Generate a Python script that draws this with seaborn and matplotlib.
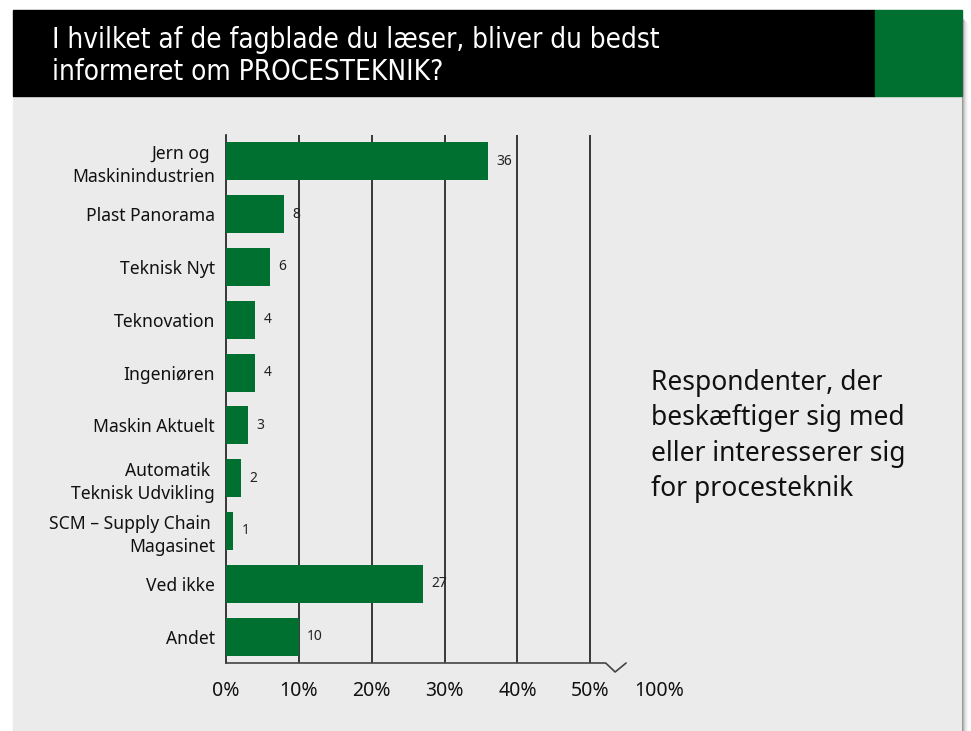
import pandas as pd
import seaborn as sns
import matplotlib.pyplot as plt
from matplotlib.patches import Rectangle

# Data
titel = "I hvilket af de fagblade du læser, bliver du bedst\ninformeret om PROCESTEKNIK?"
fagblade = [
    "Jern og \nMaskinindustrien",
    "Plast Panorama",
    "Teknisk Nyt",
    "Teknovation",
    "Ingeniøren",
    "Maskin Aktuelt",
    "Automatik \nTeknisk Udvikling",
    "SCM – Supply Chain \nMagasinet",
    "Ved ikke",
    "Andet",
]
procent = [36, 8, 6, 4, 4, 3, 2, 1, 27, 10]
tick_pos = [0, 10, 20, 30, 40, 50, 59.5]
tick_labels = ["0%", "10%", "20%", "30%", "40%", "50%", "100%"]
gridlines = [10, 20, 30, 40, 50]
note = "Respondenter, der\nbeskæftiger sig med\neller interesserer sig\nfor procesteknik"

GREEN = "#007030"
BG = "#ebebeb"

df = pd.DataFrame({"fagblad": fagblade, "procent": procent})

sns.set_theme(style="white")
plt.rcParams["font.family"] = ["Noto Sans", "DejaVu Sans"]

fig = plt.figure(figsize=(9.71, 7.31), dpi=100)
fig.patch.set_facecolor("white")

W, H = 971, 731
def fx(px):
    return px / W
def fy(py):
    return 1 - py / H

# panel background, header band, green block, shadow
fig.patches.append(Rectangle((fx(13), 0), fx(962) - fx(13), fy(96), transform=fig.transFigure, color=BG, zorder=-5))
fig.patches.append(Rectangle((fx(13), fy(96)), fx(875) - fx(13), fy(10) - fy(96), transform=fig.transFigure, color="black", zorder=-5))
fig.patches.append(Rectangle((fx(875), fy(96)), fx(962) - fx(875), fy(10) - fy(96), transform=fig.transFigure, color=GREEN, zorder=-5))
for i, a in enumerate([0.55, 0.4, 0.28, 0.18, 0.1, 0.05, 0.02]):
    fig.patches.append(Rectangle((fx(962 + i), 0), fx(1), fy(18 + i), transform=fig.transFigure,
                                 color="#555555", alpha=a, zorder=-5, lw=0))

fig.text(fx(52), fy(56), titel, color="white", fontsize=20, va="center", ha="left",
         linespacing=1.15, family="DejaVu Sans", stretch="condensed")

ax = fig.add_axes([fx(226), fy(663), fx(680) - fx(226), fy(135) - fy(663)])
ax.set_facecolor("none")

for g in gridlines:
    ax.axvline(g, color="#1a1a1a", lw=1.2, zorder=1)

sns.barplot(data=df, x="procent", y="fagblad", orient="h", color=GREEN,
            saturation=1, width=0.72, linewidth=0, ax=ax, zorder=3)
ax.bar_label(ax.containers[0], padding=6, fontsize=10, color="#222222")

ax.set_xlim(0, 62.3)
ax.set_ylim(9.5, -0.5)
ax.set_xticks(tick_pos)
ax.set_xticklabels(tick_labels)
ax.set_xlabel("")
ax.set_ylabel("")
ax.tick_params(axis="y", length=0, pad=8, labelsize=12.6, colors="#111111")
ax.tick_params(axis="x", length=0, pad=13, labelsize=14, colors="#111111")
for lab in ax.get_yticklabels():
    lab.set_linespacing(1.35)

for s in ["top", "right", "bottom"]:
    ax.spines[s].set_visible(False)
ax.spines["left"].set_color("#1a1a1a")
ax.spines["left"].set_linewidth(1.2)

# bottom axis with break mark
ax.plot([0, 52.1, 53.4, 54.9], [0, 0, -0.017, 0], transform=ax.get_xaxis_transform(),
        color="#444444", lw=1.2, clip_on=False, zorder=4)

fig.text(fx(651), fy(436), note, fontsize=19, ha="left", va="center",
         linespacing=1.35, color="#111111")

fig.savefig("out.png", dpi=100)
